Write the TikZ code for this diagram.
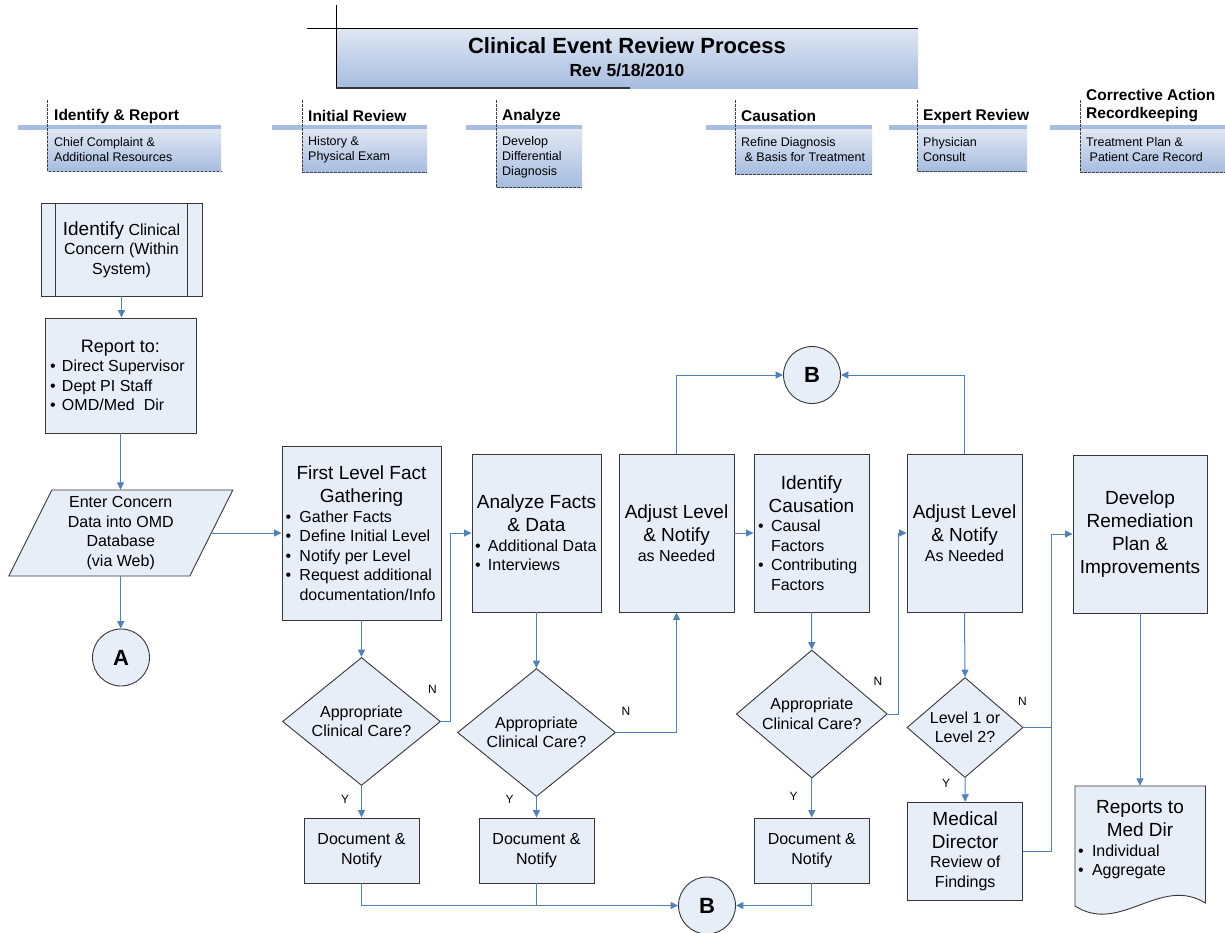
\documentclass[tikz,border=0pt]{standalone}
\usepackage{fontspec}
\setmainfont{Liberation Sans}
\usetikzlibrary{arrows.meta,shapes.geometric,calc}
\definecolor{boxfill}{RGB}{232,238,247}
\definecolor{boxline}{RGB}{55,55,55}
\definecolor{connc}{RGB}{79,129,189}
\definecolor{hbar}{RGB}{168,190,224}
\definecolor{gtop}{RGB}{224,231,243}
\definecolor{gbot}{RGB}{166,188,223}
\newcommand\fsT{\fontsize{22}{26}\selectfont\bfseries}
\newcommand\fsSub{\fontsize{17.5}{21}\selectfont\bfseries}
\newcommand\fsH{\fontsize{15.5}{18}\selectfont\bfseries}
\newcommand\fsS{\fontsize{12.5}{15}\selectfont}
\newcommand\fsL{\fontsize{19}{23}\selectfont}
\newcommand\fsR{\fontsize{18}{21}\selectfont}
\newcommand\fsM{\fontsize{16}{19.5}\selectfont}
\newcommand\fsN{\fontsize{12}{14}\selectfont}
\newcommand\fsC{\fontsize{22}{26}\selectfont\bfseries}
\newlength\bulw
\newcommand\myitem[1]{\par\noindent\hangindent=\bulw\hangafter=1\makebox[\bulw][l]{\textbullet}#1\par}
\newcommand\bxt[3]{\begin{minipage}{#1}\setlength\bulw{#2}#3\end{minipage}}
\newcommand\hlane[4]{%
 \fill[hbar] (#1,125) rectangle (#3,129.5);
 \shade[top color=gtop, bottom color=gbot] (#2,129.5) rectangle (#3,#4);
 \draw[hdash] (#2,100) -- (#2,#4) -- (#3,#4);}
\begin{document}
\begin{tikzpicture}[x=1pt,y=-1pt,
  shp/.style={draw=boxline, fill=boxfill, line width=0.9pt},
  box/.style={shp, rectangle, inner sep=0pt},
  circ/.style={shp, circle, minimum size=57pt, inner sep=0pt, font=\fsC},
  dia/.style={shp, diamond, inner sep=0pt},
  txt/.style={inner sep=0pt, align=center, font=\fsM},
  hdt/.style={inner sep=0pt, align=left, font=\fsH, anchor=west},
  hdb/.style={inner sep=0pt, align=left, font=\fsS, anchor=west},
  cn/.style={draw=connc, line width=1pt},
  arr/.style={cn, -{Triangle[length=7.5pt,width=7pt]}},
  yn/.style={inner sep=0pt, font=\fsN},
  hdash/.style={draw=black!75, line width=0.7pt, dash pattern=on 2.5pt off 1.5pt},
]
\fill[white] (0,0) rectangle (1225,932);
\useasboundingbox (0,0) rectangle (1225,932);

% title
\shade[top color=gtop, bottom color=gbot] (336,28) rectangle (918,88);
\draw[black, line width=0.9pt] (336,5) -- (336,88);
\draw[black, line width=0.9pt] (307,28) -- (918,28);
\draw[black!80, line width=1.2pt] (336,88) -- (630,88);
\node[inner sep=0pt, font=\fsT] (title) at (627,46) {Clinical Event Review Process};
\node[inner sep=0pt, font=\fsSub] (subtitle) at (627,70) {Rev 5/18/2010};

% header lanes
\hlane{18}{47.7}{221}{171}
\hlane{272}{302}{427}{172}
\hlane{466}{496}{582}{187}
\hlane{706}{735}{872}{174}
\hlane{889}{917}{1027}{171}
\hlane{1050}{1080}{1226}{172}
\node[hdt] (h1t) at (54,116) {Identify \& Report};
\node[hdb] (h1b) at (54,150) {Chief Complaint \&\\Additional Resources};
\node[hdt] (h2t) at (308,116) {Initial Review};
\node[hdb] (h2b) at (308,150) {History \&\\Physical Exam};
\node[hdt] (h3t) at (502,116) {Analyze};
\node[hdb] (h3b) at (502,157.5) {Develop\\Differential\\Diagnosis};
\node[hdt] (h4t) at (741,116) {Causation};
\node[hdb] (h4b) at (741,150) {Refine Diagnosis\\\ \& Basis for Treatment};
\node[hdt] (h5t) at (923,116) {Expert Review};
\node[hdb] (h5b) at (923,150) {Physician\\Consult};
\node[hdt] (h6t) at (1086,106) {Corrective Action\\Recordkeeping};
\node[hdb] (h6b) at (1086,150) {Treatment Plan \&\\\ Patient Care Record};

% left column
\node[box, minimum width=161pt, minimum height=93pt] (idc) at (121.5,249.5)
  {\bxt{140pt}{0pt}{\fsM\centering{\fsL Identify} Clinical\\Concern (Within\\System)}};
\draw[boxline, line width=0.9pt] ([xshift=15pt]idc.north west) -- ([xshift=15pt]idc.south west);
\draw[boxline, line width=0.9pt] ([xshift=-15pt]idc.north east) -- ([xshift=-15pt]idc.south east);
\node[box, minimum width=151pt, minimum height=115pt] (rpt) at (120.5,375.5)
  {\bxt{141pt}{12pt}{\fsR\centering Report to:\par\fsM\raggedright\myitem{Direct Supervisor}\myitem{Dept PI Staff}\myitem{OMD/Med\ \ Dir}}};
\filldraw[shp] (51.75,490) -- (232.75,490) -- (189.75,576) -- (8.75,576) -- cycle;
\node[txt, minimum width=181pt, minimum height=86pt] (ent) at (120.75,533)
  {Enter Concern\\Data into OMD\\Database\\(via Web)};
\node[circ] (A) at (121,657.5) {A};

% main row
\node[box, minimum width=159pt, minimum height=174pt] (fl) at (361.5,533)
  {\bxt{152pt}{14pt}{\fsL\centering First Level Fact\\Gathering\par\fsM\raggedright\myitem{Gather Facts}\myitem{Define Initial Level}\myitem{Notify per Level}\myitem{Request additional\newline documentation/Info}}};
\node[box, minimum width=129pt, minimum height=158pt] (an) at (536.5,533)
  {\bxt{123pt}{13pt}{\fsL\centering Analyze Facts\\\& Data\par\fsM\raggedright\myitem{Additional Data}\myitem{Interviews}}};
\node[box, minimum width=115pt, minimum height=158pt] (adj1) at (676.5,533)
  {\bxt{112pt}{0pt}{\fsL\centering Adjust Level\\\& Notify\par\fsM as Needed\par}};
\node[box, minimum width=115pt, minimum height=158pt] (ic) at (811.5,533)
  {\bxt{107pt}{13pt}{\fsL\centering Identify\\Causation\par\fsM\raggedright\myitem{Causal\newline Factors}\myitem{Contributing\newline Factors}}};
\node[box, minimum width=115pt, minimum height=158pt] (adj2) at (964.5,533)
  {\bxt{112pt}{0pt}{\fsL\centering Adjust Level\\\& Notify\par\fsM As Needed\par}};
\node[box, minimum width=134pt, minimum height=158pt] (dev) at (1140,534)
  {\bxt{130pt}{0pt}{\fsL\centering Develop\\Remediation\\Plan \&\\Improvements\par}};
\node[circ] (B1) at (812,375) {B};

% decisions
\node[dia, minimum width=158pt, minimum height=128pt] (d1) at (361.5,721.5) {};
\node[txt] (d1t) at (d1) {Appropriate\\Clinical Care?};
\node[dia, minimum width=158pt, minimum height=128pt] (d2) at (536.5,732.5) {};
\node[txt] (d2t) at (d2) {Appropriate\\Clinical Care?};
\node[dia, minimum width=151pt, minimum height=128pt] (d3) at (811.8,714) {};
\node[txt] (d3t) at (d3) {Appropriate\\Clinical Care?};
\node[dia, minimum width=116pt, minimum height=100pt] (d4) at (965,727.5) {};
\node[txt] (d4t) at (d4) {Level 1 or\\Level 2?};

% bottom row
\node[box, minimum width=115pt, minimum height=65pt] (doc1) at (361.5,850.5) {\bxt{110pt}{0pt}{\fsM\centering Document \&\\Notify\par}};
\node[box, minimum width=115pt, minimum height=65pt] (doc2) at (536.5,850.5) {\bxt{110pt}{0pt}{\fsM\centering Document \&\\Notify\par}};
\node[box, minimum width=115pt, minimum height=65pt] (doc3) at (811.8,850.5) {\bxt{110pt}{0pt}{\fsM\centering Document \&\\Notify\par}};
\node[box, minimum width=115pt, minimum height=98pt] (md) at (965.2,851.2)
  {\bxt{112pt}{0pt}{\fsL\centering Medical\\Director\par\fsM Review of\\Findings\par}};
\node[circ] (B2) at (707,905.5) {B};
\filldraw[shp] (1075,786) -- (1205.5,786) -- (1205.5,903) .. controls (1160,875) and (1120,935) .. (1075,906) -- cycle;
\node[inner sep=0pt, minimum width=130pt, minimum height=108pt] (rmd) at (1140,840)
  {\bxt{124pt}{14pt}{\fsL\centering Reports to\\Med Dir\par\fsM\raggedright\myitem{Individual}\myitem{Aggregate}}};

% connectors
\draw[arr] (idc.south) -- (idc.south |- rpt.north);
\draw[arr] (rpt.south) -- (rpt.south |- ent.north);
\draw[arr] (ent.east) -- (fl.west);
\draw[arr] (ent.south) -- (ent.south |- A.north);
\draw[arr] (fl.south) -- (d1.north);
\draw[arr] (d1.east) -- ++(10,0) |- (an.west);
\draw[arr] (d1.south) -- (doc1.north);
\draw[arr] (doc1.south) |- (B2.west);
\draw[arr] (an.south) -- (d2.north);
\draw[arr] (d2.east) -| (adj1.south);
\draw[arr] (d2.south) -- (doc2.north);
\draw[cn] (doc2.south) -- (doc2.south |- B2.west);
\draw[arr] (adj1.north) |- (B1.west);
\draw[arr] (adj1.east) -- (ic.west);
\draw[arr] (ic.south) -- (d3.north);
\draw[arr] (d3.east) -- ++(10.5,0) |- (adj2.west);
\draw[arr] (d3.south) -- (doc3.north);
\draw[arr] (doc3.south) |- (B2.east);
\draw[arr] (adj2.north) |- (B1.east);
\draw[arr] (adj2.south) -- (d4.north);
\coordinate (jn) at (1051.5,727.5);
\draw[cn] (d4.east) -- (jn);
\draw[arr] (d4.south) -- (md.north);
\draw[arr] (md.east) -- ++(28.5,0) |- (dev.west);
\draw[arr] (dev.south) -- (dev.south |- rmd.north);

% Y / N labels
\node[yn] (n1) at (432.5,689) {N};
\node[yn] (y1) at (345,799) {Y};
\node[yn] (n2) at (626,711) {N};
\node[yn] (y2) at (509.5,799) {Y};
\node[yn] (n3) at (878,681) {N};
\node[yn] (y3) at (793.5,796) {Y};
\node[yn] (n4) at (1022.5,701) {N};
\node[yn] (y4) at (946,783) {Y};
\end{tikzpicture}
\end{document}
